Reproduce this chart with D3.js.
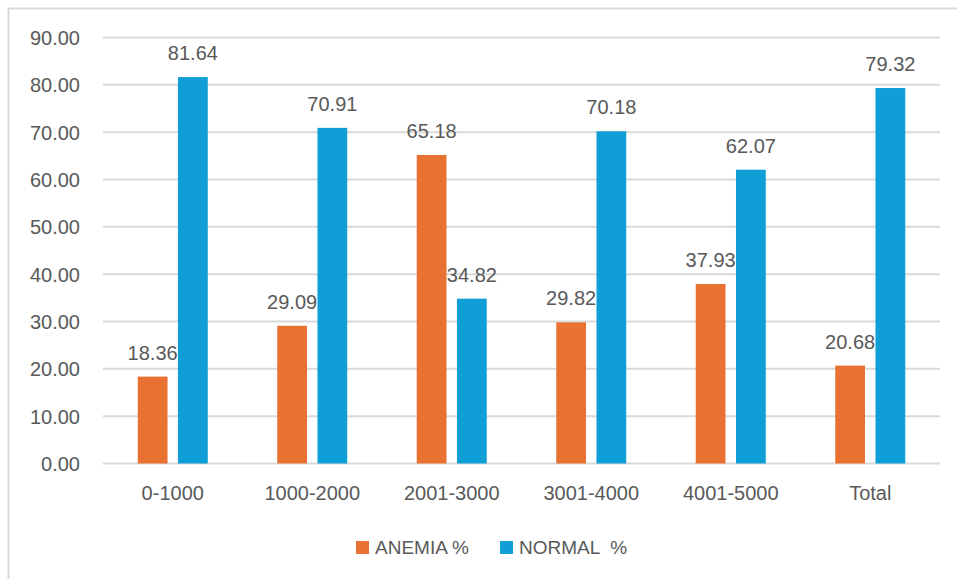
<!DOCTYPE html>
<html><head><meta charset="utf-8">
<script src="https://cdn.jsdelivr.net/npm/d3@7"></script>
<style>body{margin:0;background:#fff}svg{display:block}text{font-family:"Liberation Sans",Arial,sans-serif;fill:#595959}</style>
</head><body>
<svg id="c" width="957" height="579"></svg>
<script>
const categories = ["0-1000","1000-2000","2001-3000","3001-4000","4001-5000","Total"];
const anemia = [18.36,29.09,65.18,29.82,37.93,20.68];
const normal = [81.64,70.91,34.82,70.18,62.07,79.32];
const seriesNames = ["ANEMIA %","NORMAL  %"];
const yTicks = [0,10,20,30,40,50,60,70,80,90];
const colors = ["#E97132","#0F9ED5"];

const svg = d3.select("#c");
const m = {left:103, right:940, top:37.5, bottom:463.5};
svg.append("rect").attr("x",8.5).attr("y",8.5).attr("width",1000).attr("height",1000)
  .attr("fill","none").attr("stroke","#D9D9D9").attr("stroke-width",2);

const x = d3.scaleBand().domain(categories).range([m.left,m.right]);
const x1 = d3.scaleBand().domain([0,1]).range([x.bandwidth()/2-35, x.bandwidth()/2+35]).paddingInner(0.26);
const y = d3.scaleLinear().domain([0,90]).range([m.bottom,m.top]);

const g = svg.append("g");
g.selectAll("line.grid").data(yTicks).join("line")
  .attr("x1",m.left).attr("x2",m.right)
  .attr("y1",d=>y(d)).attr("y2",d=>y(d))
  .attr("stroke","#D9D9D9").attr("stroke-width",2);

const yAxis = d3.axisLeft(y).tickValues(yTicks).tickFormat(d3.format(".2f")).tickSize(0).tickPadding(23);
const ya = svg.append("g").attr("transform",`translate(${m.left},0)`).call(yAxis);
ya.select(".domain").remove();
ya.selectAll("text").style("font-size","20px").attr("fill","#595959").attr("dy","0.35em");

const xAxis = d3.axisBottom(x).tickSize(0).tickPadding(22);
const xa = svg.append("g").attr("transform",`translate(0,${m.bottom})`).call(xAxis);
xa.select(".domain").remove();
xa.selectAll("text").style("font-size","20px").attr("fill","#595959");

const data = categories.map((c,i)=>({c, v:[anemia[i], normal[i]]}));
const grp = svg.append("g").selectAll("g").data(data).join("g")
  .attr("transform",d=>`translate(${x(d.c)},0)`);
grp.selectAll("rect").data(d=>d.v.map((v,k)=>({v,k}))).join("rect")
  .attr("x",d=>x1(d.k)).attr("width",x1.bandwidth())
  .attr("y",d=>y(d.v)).attr("height",d=>y(0)-y(d.v))
  .attr("fill",d=>colors[d.k]);
grp.selectAll("text.lab").data(d=>d.v.map((v,k)=>({v,k}))).join("text")
  .attr("class","lab")
  .attr("x",d=>x1(d.k)+x1.bandwidth()/2).attr("y",d=>y(d.v)-17)
  .attr("text-anchor","middle").style("font-size","20px")
  .text(d=>d.v.toFixed(2));

const leg = svg.append("g");
const legX = [356, 500];
seriesNames.forEach((n,i)=>{
  leg.append("rect").attr("x",legX[i]).attr("y",541).attr("width",13).attr("height",13).attr("fill",colors[i]);
  leg.append("text").attr("x",legX[i]+19).attr("y",554).style("font-size","19px").style("white-space","pre").attr("xml:space","preserve").text(n);
});
</script>
</body></html>
